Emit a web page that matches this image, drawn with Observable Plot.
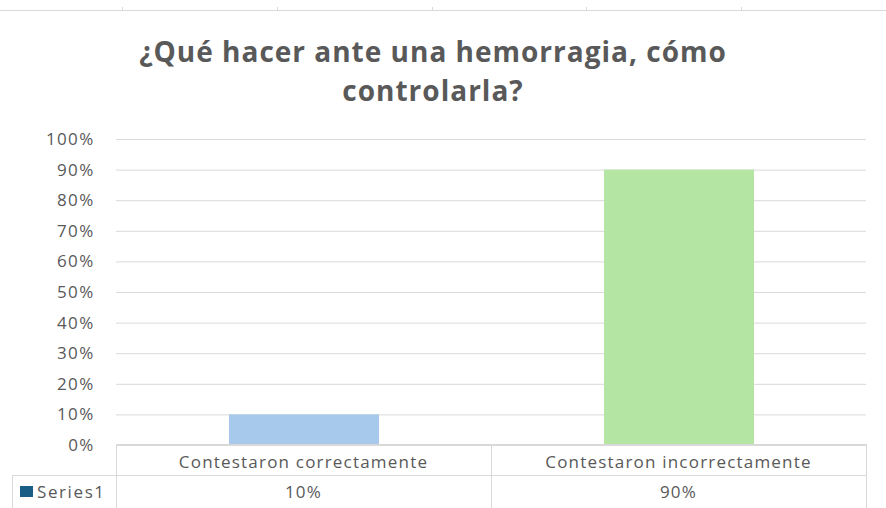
<!DOCTYPE html>
<html>
<head>
<meta charset="utf-8">
<script src="https://cdn.jsdelivr.net/npm/d3@7"></script>
<script src="https://cdn.jsdelivr.net/npm/@observablehq/plot@0.6"></script>
<style>
  html, body { margin: 0; padding: 0; background: #fff; }
  #wrap { position: relative; width: 886px; height: 508px; overflow: hidden; font-family: "Open Sans", sans-serif; color: #595959; }
  #wrap svg { position: absolute; left: 0; top: 0; }
  .title { position: absolute; left: 0; width: 866px; text-align: center; font-weight: bold; font-size: 28px; letter-spacing: 1px; color: #595959; line-height: 40px; }
  .cell { position: absolute; box-sizing: border-box; text-align: center; font-size: 17px; letter-spacing: 1.2px; color: #595959; }
  .hl { position: absolute; height: 1px; background: #d9d9d9; }
  .vl { position: absolute; width: 1px; background: #d9d9d9; }
</style>
</head>
<body>
<div id="wrap"></div>
<script>
const categories = ["Contestaron correctamente", "Contestaron incorrectamente"];
const values = [10, 90];
const valueLabels = ["10%", "90%"];
const barColors = ["#a6c9ec", "#b4e5a2"];
const yTicks = [0, 10, 20, 30, 40, 50, 60, 70, 80, 90, 100];
const seriesName = "Series1";
const titleLines = ["¿Qué hacer ante una hemorragia, cómo", "controlarla?"];

(function () {
const data = categories.map((c, i) => ({cat: c, value: values[i], color: barColors[i]}));

const W = 886, H = 508;
const plot = Plot.plot({
  width: W,
  height: H,
  marginTop: 139,
  marginBottom: 63,
  marginLeft: 116,
  marginRight: 20,
  style: {fontFamily: "Open Sans, sans-serif", fontSize: "17px", color: "#595959", background: "transparent", letterSpacing: "1.3px"},
  x: {domain: categories, paddingInner: 0.6, paddingOuter: 0.3, axis: null},
  y: {domain: [0, 100], axis: null},
  marks: [
    Plot.gridY(yTicks, {stroke: "#d9d9d9", strokeOpacity: 1}),
    Plot.barY(data, {x: "cat", y: "value", fill: "color"}),
    Plot.axisY(yTicks, {tickSize: 0, tickPadding: 22, label: null, tickFormat: d => d + "%", fill: "#595959", fontSize: 17})
  ]
});

const wrap = document.getElementById("wrap");

function hl(l, t, w) { const e = document.createElement("div"); e.className = "hl"; e.style.cssText = `left:${l}px;top:${t}px;width:${w}px;`; wrap.appendChild(e); }
function vl(l, t, h) { const e = document.createElement("div"); e.className = "vl"; e.style.cssText = `left:${l}px;top:${t}px;height:${h}px;`; wrap.appendChild(e); }

// top faint border
hl(0, 10, 886);
[122, 277, 432, 586, 741].forEach(x => vl(x, 7, 3));

titleLines.forEach((t, i) => {
  const d = document.createElement("div");
  d.className = "title";
  d.style.top = (31 + i * 39) + "px";
  d.textContent = t;
  wrap.appendChild(d);
});

wrap.appendChild(plot);

// data table below the plot, aligned to the x scale
const xs = plot.scale("x");
const x0 = xs.range[0], x1 = xs.range[1];
const step = (x1 - x0) / categories.length;
const tTop = 444, r1 = 475, bottom = 520;

hl(x0, tTop, x1 - x0);
hl(12, r1, x1 - 12);
vl(12, r1, bottom - r1);
for (let i = 0; i <= categories.length; i++) vl(Math.round(x0 + i * step), tTop, bottom - tTop);

categories.forEach((c, i) => {
  const d = document.createElement("div");
  d.className = "cell";
  d.style.cssText += `left:${x0 + i * step}px;width:${step}px;top:${tTop + 6}px;`;
  d.textContent = c;
  wrap.appendChild(d);
  const v = document.createElement("div");
  v.className = "cell";
  v.style.cssText += `left:${x0 + i * step}px;width:${step}px;top:${r1 + 5}px;`;
  v.textContent = valueLabels[i];
  wrap.appendChild(v);
});

const leg = document.createElement("div");
leg.className = "cell";
leg.style.cssText += `left:20px;top:${r1 + 5}px;text-align:left;display:flex;align-items:center;gap:4px;letter-spacing:1.6px;`;
leg.innerHTML = `<span style="display:inline-block;width:13px;height:11px;background:#1b5e85"></span><span>${seriesName}</span>`;
wrap.appendChild(leg);
})();
</script>
</body>
</html>
